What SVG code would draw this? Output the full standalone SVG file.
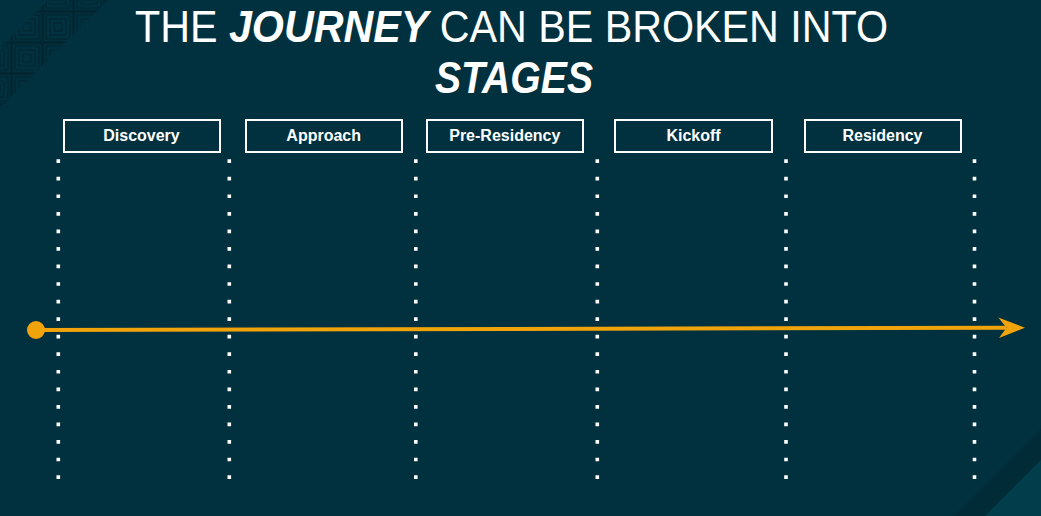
<svg xmlns="http://www.w3.org/2000/svg" width="1041" height="516" viewBox="0 0 1041 516">
  <style>
    .title { font-family: "Liberation Sans", Arial, sans-serif; font-size: 44px; fill: #ffffff; }
    .em { font-weight: 700; font-style: italic; }
    .stage rect { fill: none; stroke: #ffffff; stroke-width: 2; }
    .stage text { font-family: "Liberation Sans", Arial, sans-serif; font-size: 16px; font-weight: 700; fill: #ffffff; text-anchor: middle; }
    .divider { stroke: #ffffff; stroke-width: 3.6; stroke-dasharray: 3.7 13.85; fill: none; }
    .track { stroke: #f0a30b; stroke-width: 4; fill: none; }
  </style>
  <defs>
    <pattern id="squares" patternUnits="userSpaceOnUse" x="11.5" y="11.5" width="31" height="31">
      <g fill="none" stroke="#01242f" stroke-width="1.3">
        <rect x="0.6" y="0.6" width="29.8" height="29.8"/>
        <rect x="3.5" y="3.5" width="24" height="24"/>
        <rect x="7.5" y="7.5" width="16" height="16"/>
        <rect x="11.5" y="11.5" width="8" height="8"/>
      </g>
    </pattern>
    <clipPath id="band">
      <polygon points="48,0 108,0 0,108 0,48"/>
    </clipPath>
  </defs>

  <!-- background -->
  <rect width="1041" height="516" fill="#01313f"/>
  <rect width="140" height="140" fill="url(#squares)" clip-path="url(#band)"/>
  <polygon points="1041,429 1041,516 954,516" fill="#002b37"/>
  <polygon points="1041,460 1041,516 985,516" fill="#023d4c"/>

  <!-- heading -->
  <text class="title" x="135" y="42" textLength="753" lengthAdjust="spacingAndGlyphs">THE <tspan class="em">JOURNEY</tspan> CAN BE BROKEN INTO</text>
  <text class="title em" x="435" y="93" textLength="158" lengthAdjust="spacingAndGlyphs">STAGES</text>

  <!-- stage labels -->
  <g id="discovery" class="stage"><rect x="64" y="120" width="156" height="32"/><text x="141.5" y="141">Discovery</text></g>
  <g id="approach" class="stage"><rect x="246" y="120" width="156" height="32"/><text x="323.7" y="141">Approach</text></g>
  <g id="pre-residency" class="stage"><rect x="427" y="120" width="156" height="32"/><text x="504.8" y="141">Pre-Residency</text></g>
  <g id="kickoff" class="stage"><rect x="615" y="120" width="157" height="32"/><text x="693.5" y="141">Kickoff</text></g>
  <g id="residency" class="stage"><rect x="805" y="120" width="156" height="32"/><text x="882.5" y="141">Residency</text></g>

  <!-- connectors: stage dividers and the timeline arrow -->
  <g id="connectors">
    <line class="divider" x1="58.3" y1="159.3" x2="58.3" y2="479"/>
    <line class="divider" x1="229.3" y1="159.3" x2="229.3" y2="479"/>
    <line class="divider" x1="415.8" y1="159.3" x2="415.8" y2="479"/>
    <line class="divider" x1="597.3" y1="159.3" x2="597.3" y2="479"/>
    <line class="divider" x1="786" y1="159.3" x2="786" y2="479"/>
    <line class="divider" x1="974.5" y1="159.3" x2="974.5" y2="479"/>
    <circle cx="36" cy="330" r="9" fill="#f0a30b"/>
    <line class="track" x1="36" y1="330" x2="1006" y2="327.7"/>
    <polygon points="998.3,317.5 1025,327.7 999,337.9 1006.5,327.7" fill="#f0a30b"/>
  </g>
</svg>
